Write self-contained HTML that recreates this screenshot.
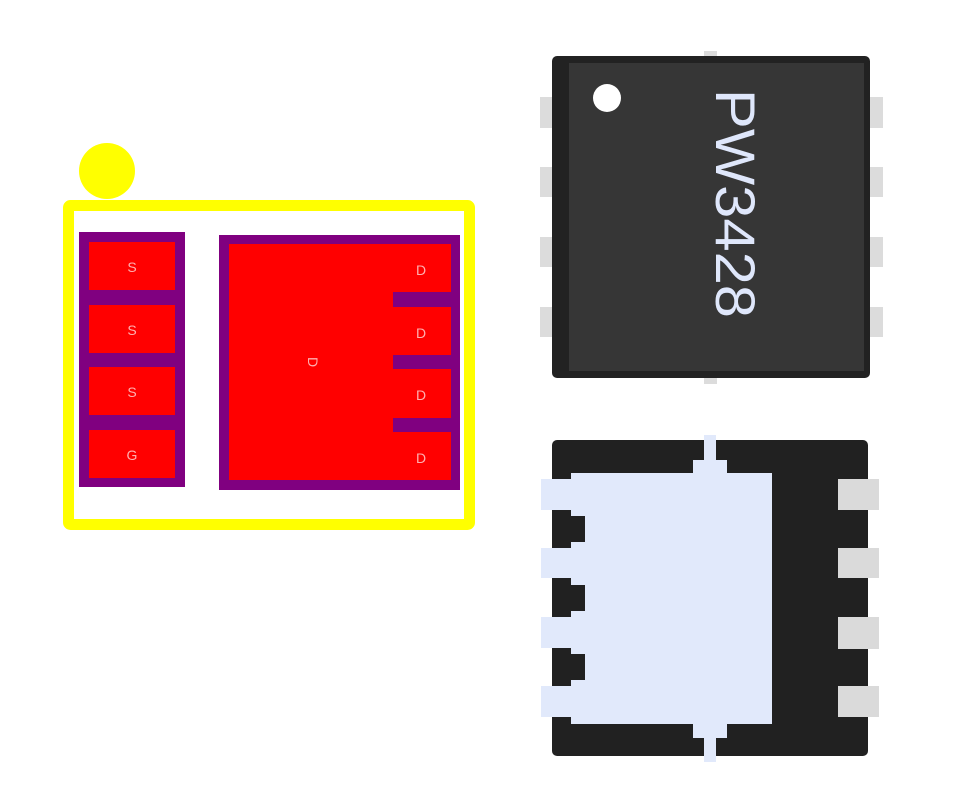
<!DOCTYPE html>
<html><head><meta charset="utf-8"><style>html,body{margin:0;padding:0;background:#fff}svg{display:block}</style></head>
<body>
<svg width="975" height="812" viewBox="0 0 975 812" xmlns="http://www.w3.org/2000/svg" font-family="Liberation Sans, sans-serif">
<circle cx="107" cy="171" r="28" fill="#ffff00"/>
<rect x="68.5" y="205.5" width="401" height="319" fill="none" stroke="#ffff00" stroke-width="11" rx="2"/>
<rect x="79" y="232" width="106" height="255" fill="#800080"/>
<g fill="#ff0000">
<rect x="89" y="242" width="86" height="48"/>
<rect x="89" y="305" width="86" height="48"/>
<rect x="89" y="367" width="86" height="48"/>
<rect x="89" y="430" width="86" height="48"/>
</g>
<rect x="219" y="235" width="241" height="255" fill="#800080"/>
<rect x="229" y="244" width="222" height="236" fill="#ff0000"/>
<g fill="#800080">
<rect x="393" y="292" width="60" height="15"/>
<rect x="393" y="355" width="60" height="14"/>
<rect x="393" y="418" width="60" height="14"/>
</g>
<g fill="#ffb0b0" font-size="14" text-anchor="middle">
<text x="132" y="272">S</text>
<text x="132" y="335">S</text>
<text x="132" y="397">S</text>
<text x="132" y="460">G</text>
<text x="421" y="275">D</text>
<text x="421" y="338">D</text>
<text x="421" y="400">D</text>
<text x="421" y="463">D</text>
<text x="0" y="0" transform="translate(308,362) rotate(90)">D</text>
</g>
<g fill="#dcdcdc">
<rect x="540" y="97" width="14" height="31"/><rect x="540" y="167" width="14" height="30"/>
<rect x="540" y="237" width="14" height="30"/><rect x="540" y="307" width="14" height="30"/>
<rect x="868" y="97" width="15" height="31"/><rect x="868" y="167" width="15" height="30"/>
<rect x="868" y="237" width="15" height="30"/><rect x="868" y="307" width="15" height="30"/>
<rect x="704" y="51" width="13" height="8"/><rect x="704" y="375" width="13" height="9"/>
</g>
<rect x="552" y="56" width="318" height="322" rx="5" fill="#222"/>
<rect x="569" y="63" width="295" height="308" fill="#363636"/>
<circle cx="607" cy="98" r="14" fill="#fff"/>
<text x="0" y="0" transform="translate(716,89) rotate(90)" font-size="56" fill="#dfe7fb" textLength="229" lengthAdjust="spacingAndGlyphs">PW3428</text>
<rect x="552" y="440" width="316" height="316" rx="5" fill="#212121"/>
<g fill="#e1e9fb">
<rect x="571" y="473" width="201" height="251"/>
<rect x="541" y="479" width="32" height="31"/><rect x="541" y="548" width="32" height="30"/>
<rect x="541" y="617" width="32" height="31"/><rect x="541" y="686" width="32" height="31"/>
<rect x="693" y="460" width="34" height="14"/><rect x="704" y="435" width="12" height="26"/>
<rect x="693" y="723" width="34" height="15"/><rect x="704" y="737" width="12" height="25"/>
</g>
<g fill="#212121">
<rect x="552" y="516" width="33" height="26"/><rect x="552" y="585" width="33" height="26"/><rect x="552" y="654" width="33" height="26"/>
</g>
<g fill="#dadada">
<rect x="838" y="479" width="41" height="31"/><rect x="838" y="548" width="41" height="30"/>
<rect x="838" y="617" width="41" height="32"/><rect x="838" y="686" width="41" height="31"/>
</g>
</svg>
</body></html>
